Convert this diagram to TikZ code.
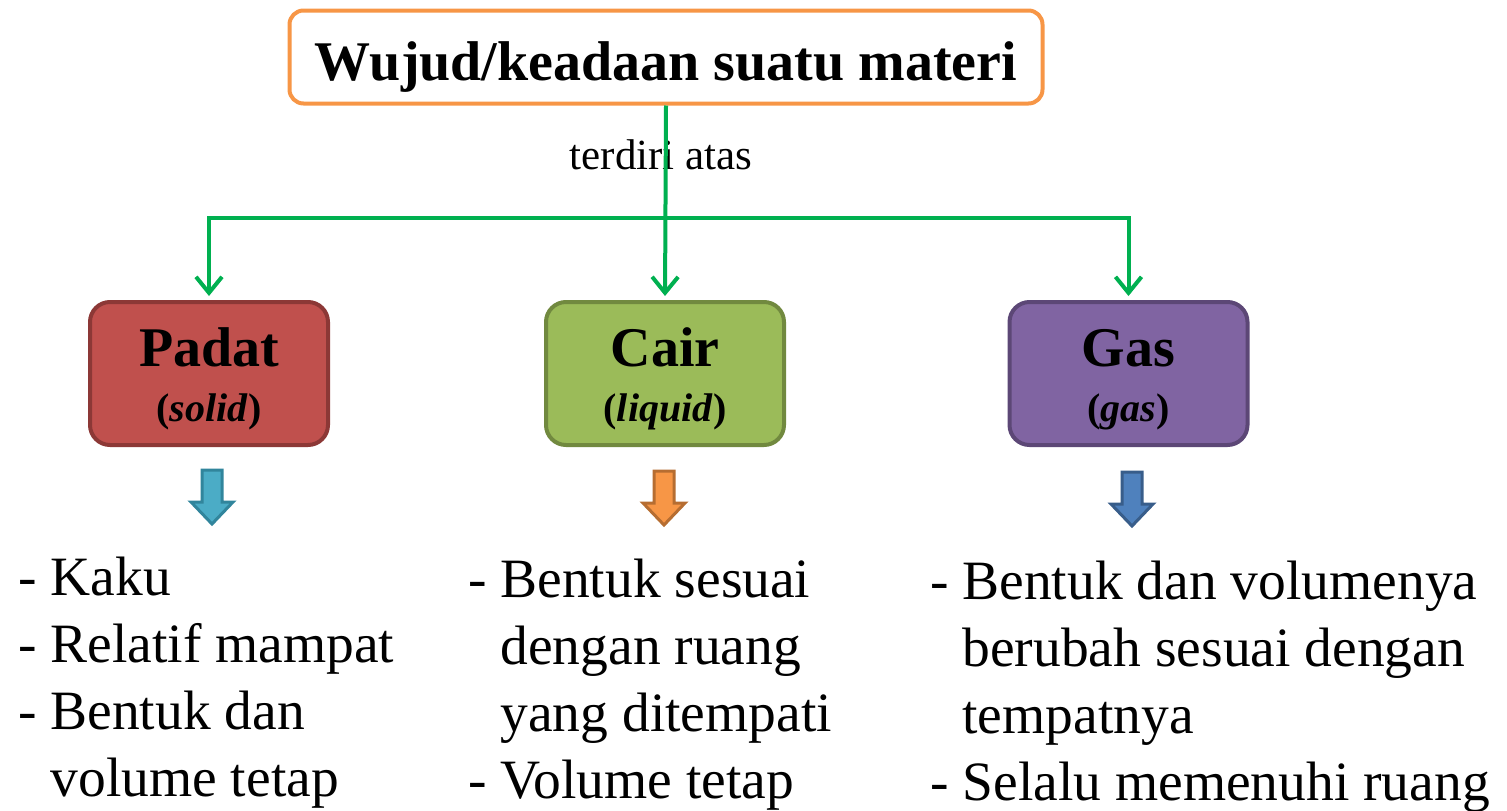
\documentclass[tikz,border=0pt]{standalone}
\usepackage{fontspec}
\setmainfont{Liberation Serif}
\usetikzlibrary{arrows.meta}
\definecolor{orangeB}{HTML}{F79646}
\definecolor{greenL}{HTML}{00B050}
\definecolor{redF}{HTML}{C0504D}
\definecolor{redB}{HTML}{8C3836}
\definecolor{olvF}{HTML}{9BBB59}
\definecolor{olvB}{HTML}{71893F}
\definecolor{purF}{HTML}{8064A2}
\definecolor{purB}{HTML}{5C4776}
\definecolor{tealF}{HTML}{4BACC6}
\definecolor{tealB}{HTML}{31859C}
\definecolor{orgF}{HTML}{F79646}
\definecolor{orgB}{HTML}{B66D31}
\definecolor{bluF}{HTML}{4F81BD}
\definecolor{bluB}{HTML}{385D8A}
\tikzset{
  statebox/.style={draw, line width=4pt, rounded corners=20pt, minimum width=238pt, minimum height=143pt, inner sep=0pt},
  boxtext/.style={anchor=base, align=center, inner sep=0pt},
  conn/.style={draw=greenL, line width=4pt, -{Straight Barb[length=16pt,width=26pt]}},
  listtext/.style={anchor=base west, align=left, inner sep=0pt, font=\fontsize{55.5}{67}\selectfont},
  pics/blockarrow/.style 2 args={code={
    \draw[line width=3pt, draw=#1, fill=#2, line join=miter]
      (-10,0) -- (10,0) -- (10,32) -- (21,32) -- (0,54) -- (-21,32) -- (-10,32) -- cycle;
  }}
}
\newcommand{\boxlabel}[2]{\fontsize{56}{60}\selectfont\bfseries #1\\[25pt]\fontsize{40}{40}\selectfont\bfseries(\textit{#2})}
\begin{document}
\begin{tikzpicture}[x=1pt,y=-1pt]
\useasboundingbox (0,0) rectangle (1507,811);
\node[draw=orangeB, line width=4pt, rounded corners=14pt, fill=white, minimum width=753pt, minimum height=93pt, inner sep=0pt, text height=46pt, text depth=0pt, font=\fontsize{56}{60}\selectfont\bfseries] (title) at (666,57) {Wujud/keadaan suatu materi};
\node[anchor=base, inner sep=0pt, font=\fontsize{43}{46}\selectfont] (lbl) at (661,169) {terdiri atas};
\node[statebox, draw=redB, fill=redF] (padat) at (209,373.5) {};
\node[statebox, draw=olvB, fill=olvF] (cair) at (665,373.5) {};
\node[statebox, draw=purB, fill=purF] (gas) at (1128.5,373.5) {};
\node[boxtext] (padatt) at (209,421) {\boxlabel{Padat}{solid}};
\node[boxtext] (cairt) at (665,421) {\boxlabel{Cair}{liquid}};
\node[boxtext] (gast) at (1128.5,421) {\boxlabel{Gas}{gas}};
\coordinate (split) at (665,218);
\draw[conn, shorten >=4pt] (title.south) -- (cair.north);
\draw[conn, shorten >=4pt] (split) -| (padat.north);
\draw[conn, shorten >=4pt] (split) -| (gas.north);
\pic at (212,470) {blockarrow={tealB}{tealF}};
\pic at (664,471) {blockarrow={orgB}{orgF}};
\pic at (1132,472) {blockarrow={bluB}{bluF}};
\node[listtext] (l1) at (18,796) {- Kaku\\- Relatif mampat\\- Bentuk dan\\\phantom{- }volume tetap};
\node[listtext] (l2) at (468,798) {- Bentuk sesuai\\\phantom{- }dengan ruang\\\phantom{- }yang ditempati\\- Volume tetap};
\node[listtext] (l3) at (930,800) {- Bentuk dan volumenya\\\phantom{- }berubah sesuai dengan\\\phantom{- }tempatnya\\- Selalu memenuhi ruang};
\end{tikzpicture}
\end{document}
